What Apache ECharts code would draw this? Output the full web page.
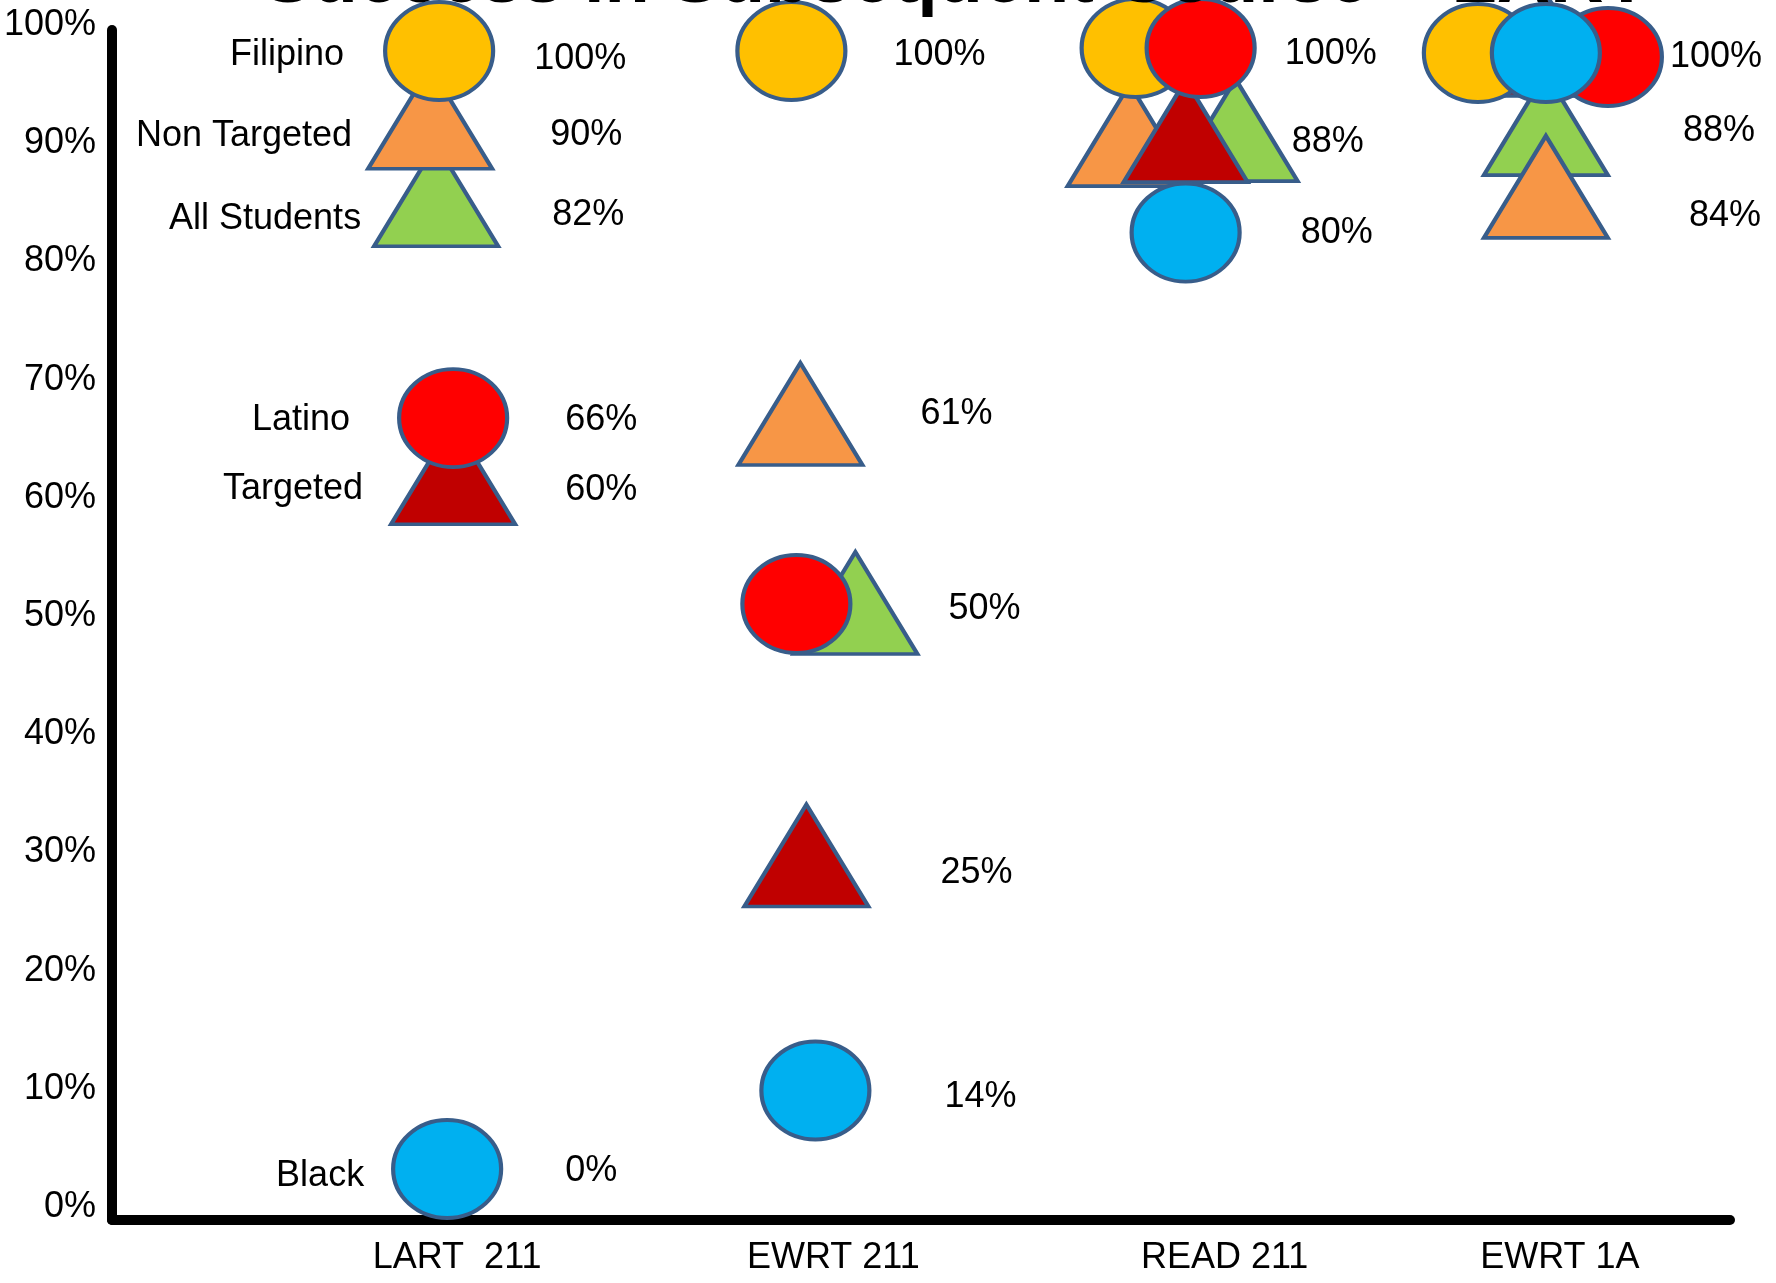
<!DOCTYPE html>
<html><head><meta charset="utf-8">
<script src="https://cdn.jsdelivr.net/npm/echarts@6/dist/echarts.min.js"></script>
<style>html,body{margin:0;padding:0;background:#fff}#c{width:1776px;height:1283px}</style>
</head><body><div id="c"></div>
<script>
// ---------- data ----------
const titleText = 'Success in Subsequent Course – LART';
const categories = ['LART  211', 'EWRT 211', 'READ 211', 'EWRT 1A'];
const yTickValues = [0, 10, 20, 30, 40, 50, 60, 70, 80, 90, 100];
const filipino    = [100, 100, 100, 100];
const nonTargeted = [90, 61, 88, 84];
const allStudents = [82, 50, 88, 88];
const latino      = [66, 50, 100, 100];
const targeted    = [60, 25, 88, 100];
const black       = [0, 14, 80, 100];

// ---------- styles ----------
const FONT = '"Liberation Sans", Arial, Helvetica, sans-serif';
const OUTLINE = '#385D8A';
const CIRCLE = [108, 98], TRI = [124, 102];
const catLabelShift = [36, 48, 90, 20]; // left padding of each category label (hand placement)

// order = stacking order (later drawn on top); nudges reproduce the hand placement on the slide
const styles = [
  {name: 'All Students', data: allStudents, color: '#92D050', symbol: 'triangle',
   nudge: [[-3, -57], [46, -7], [56, -55], [-4, -61]],
   valDist: [52, 29, -8, 73], valDy: [20, 6, 12, 7], nameDist: 13, nameDy: 24},
  {name: 'Non Targeted', data: nonTargeted, color: '#F79646', symbol: 'triangle',
   nudge: [[-9, -45], [-9, -73], [-50, -50], [-4, -43]],
   valDist: [56, 56, null, 79], valDy: [17, 0, 0, 29], nameDist: 16, nameDy: 18},
  {name: 'Targeted', data: targeted, color: '#C00000', symbol: 'triangle',
   nudge: [[14, -25], [-3, -34], [6, -54], [-4, -6]],
   valDist: [48, 70, null, null], valDy: [17, 18, 0, 0], nameDist: 28, nameDy: 16},
  {name: 'Filipino', data: filipino, color: '#FFC000', symbol: 'circle',
   nudge: [[0, 0], [-18, 0], [-44, -3], [-72, 2]],
   valDist: [39, 46, null, null], valDy: [8, 4, 0, 0], nameDist: 41, nameDy: 4},
  {name: 'Latino', data: latino, color: '#FF0000', symbol: 'circle',
   nudge: [[14, -13], [-13, -6], [21, -3], [58, 6]],
   valDist: [56, null, 28, 6], valDy: [2, 0, 6, 0], nameDist: 49, nameDy: 2},
  {name: 'Black', data: black, color: '#00B0F0', symbol: 'circle',
   nudge: [[8, 0], [6, 78], [6, -42], [-4, 2]],
   valDist: [62, 73, 59, null], valDy: [2, 7, 0, 0], nameDist: 29, nameDy: 7}
];

const labelText = {color: '#000000', fontSize: 36, fontFamily: FONT, textBorderWidth: 0, opacity: 1};

const series = [];
styles.forEach(s => {
  const size = s.symbol === 'circle' ? CIRCLE : TRI;
  series.push({
    type: 'scatter', name: s.name, xAxisIndex: 1, yAxisIndex: 1, clip: false,
    symbol: s.symbol, symbolSize: size,
    itemStyle: {color: s.color, borderColor: OUTLINE, borderWidth: 4, opacity: 1},
    emphasis: {disabled: true},
    data: s.data.map((v, i) => ({
      value: v,
      symbolOffset: s.nudge[i],
      label: s.valDist[i] == null ? {show: false} :
        Object.assign({show: true, position: 'right', distance: s.valDist[i],
                       offset: [0, s.valDy[i]], formatter: v + '%'}, labelText)
    }))
  });
});
// group names beside the first column
styles.forEach(s => {
  const size = s.symbol === 'circle' ? CIRCLE : TRI;
  series.push({
    type: 'scatter', name: s.name + ' label', xAxisIndex: 1, yAxisIndex: 1, clip: false, silent: true,
    symbol: s.symbol, symbolSize: size,
    itemStyle: {color: 'rgba(255,255,255,0)', borderWidth: 0},
    emphasis: {disabled: true},
    data: s.data.map((v, i) => i === 0 ? {
      value: v, symbolOffset: s.nudge[0],
      label: Object.assign({show: true, position: 'left', distance: s.nameDist,
                            offset: [0, s.nameDy], formatter: s.name}, labelText)
    } : '-')
  });
});

const catRich = {};
catLabelShift.forEach((p, i) => {
  catRich['c' + i] = {color: '#000', fontSize: 36, fontFamily: FONT, padding: [0, 0, 0, p]};
});

const chart = echarts.init(document.getElementById('c'), null, {renderer: 'canvas'});
chart.setOption({
  animation: false,
  backgroundColor: '#fff',
  title: {
    text: titleText, left: 951, top: -60, textAlign: 'center',
    textStyle: {fontSize: 74, fontWeight: 'bold', fontFamily: FONT, color: '#000'}
  },
  grid: [
    {left: 112, right: 46, top: 30, bottom: 63},   // axis lines
    {left: 254, right: 41, top: 51, bottom: 114},  // marks
    {left: 112, right: 46, top: 25, bottom: 76}    // y tick labels
  ],
  xAxis: [
    {gridIndex: 0, type: 'category', data: categories,
     axisLine: {show: true, lineStyle: {color: '#000', width: 10}},
     axisTick: {show: false}, axisLabel: {show: false}, splitLine: {show: false}},
    {gridIndex: 1, type: 'category', data: categories,
     axisLine: {show: false}, axisTick: {show: false}, splitLine: {show: false},
     axisLabel: {show: true, margin: 71, color: '#000', fontSize: 36, fontFamily: FONT,
                 formatter: (value, index) => '{c' + index + '|' + value + '}', rich: catRich}},
    {gridIndex: 2, type: 'value', show: false}
  ],
  yAxis: [
    {gridIndex: 0, type: 'value', min: 0, max: 100,
     axisLine: {show: true, lineStyle: {color: '#000', width: 10}},
     axisTick: {show: false}, axisLabel: {show: false}, splitLine: {show: false}},
    {gridIndex: 1, type: 'value', min: 0, max: 100, show: false, splitLine: {show: false}},
    {gridIndex: 2, type: 'value', min: yTickValues[0], max: yTickValues[yTickValues.length - 1], interval: 10,
     axisLine: {show: false}, axisTick: {show: false}, splitLine: {show: false},
     axisLabel: {show: true, margin: 16, color: '#000', fontSize: 36, fontFamily: FONT, formatter: '{value}%'}}
  ],
  series: series
});
</script>
</body></html>
